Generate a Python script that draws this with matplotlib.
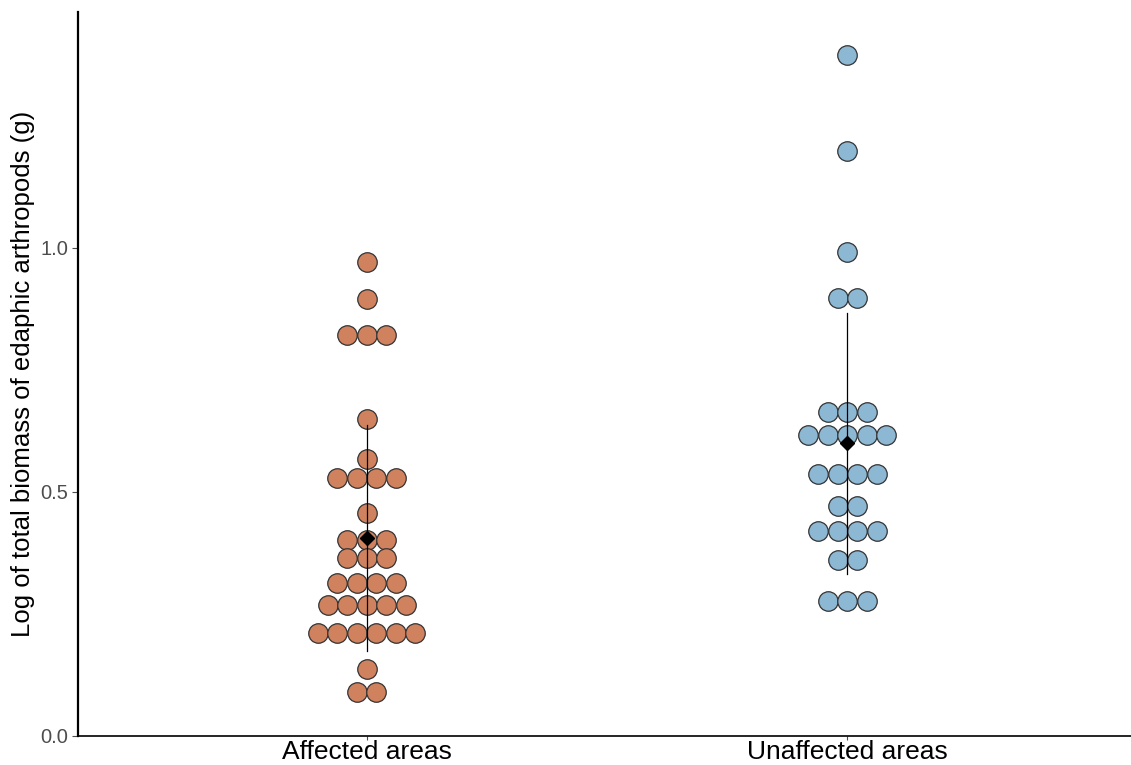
import numpy as np
import matplotlib
matplotlib.use("Agg")
import matplotlib.pyplot as plt

plt.rcParams['font.family'] = ['Liberation Sans', 'DejaVu Sans']

groups = ["Affected areas", "Unaffected areas"]

# dot rows: bin value and number of dots in the row
affected_levels = [0.971, 0.895, 0.822, 0.650, 0.568, 0.529, 0.457,
                   0.402, 0.365, 0.314, 0.268, 0.211, 0.137, 0.090]
affected_counts = [1, 1, 3, 1, 1, 4, 1, 3, 3, 4, 5, 6, 1, 2]

unaffected_levels = [1.395, 1.199, 0.992, 0.898, 0.664, 0.617,
                     0.537, 0.471, 0.420, 0.361, 0.277]
unaffected_counts = [1, 1, 1, 2, 3, 5, 4, 2, 4, 2, 3]

colors = ["#D0825F", "#8DB8D3"]

fig = plt.figure(figsize=(11.31, 7.65), dpi=100)
ax = fig.add_axes([0.069, 0.038, 0.931, 0.946])
ax.set_xlim(0.4, 2.59)
ax.set_ylim(0, 1.483)

dot_px = 19.5
ax_w_px = fig.get_figwidth() * fig.dpi * 0.931
dot_w = dot_px * (2.59 - 0.4) / ax_w_px

for gi, (levels, counts) in enumerate([(affected_levels, affected_counts),
                                       (unaffected_levels, unaffected_counts)]):
    xc = gi + 1
    xs, ys = [], []
    for v, n in zip(levels, counts):
        for i in range(n):
            xs.append(xc + (i - (n - 1) / 2) * dot_w)
            ys.append(v)
    ax.scatter(xs, ys, s=(dot_px * 72 / 100) ** 2, c=colors[gi],
               edgecolors="#333333", linewidths=0.9, zorder=2)
    vals = np.repeat(levels, counts)
    m = vals.mean()
    sd = vals.std(ddof=1)
    ax.plot([xc, xc], [m - sd, m + sd], color="black", lw=0.9, zorder=3)
    ax.plot(xc, m, marker="D", color="black", markersize=7, zorder=4)

ax.set_xticks([1, 2])
ax.set_xticklabels(groups, fontsize=19, color="black")
ax.set_yticks([0, 0.5, 1.0])
ax.set_yticklabels(["0.0", "0.5", "1.0"], fontsize=14.5, color="#4D4D4D")
ax.tick_params(axis="both", color="#4D4D4D", width=0.8)
ax.tick_params(axis="y", length=4, pad=3)
ax.tick_params(axis="x", length=3, pad=0)
ax.set_ylabel("Log of total biomass of edaphic arthropods (g)", fontsize=18.5,
              color="black", labelpad=4)

for s in ["top", "right"]:
    ax.spines[s].set_visible(False)
ax.spines["left"].set_linewidth(1.6)
ax.spines["bottom"].set_linewidth(1.2)

fig.savefig("out.png", dpi=100)
